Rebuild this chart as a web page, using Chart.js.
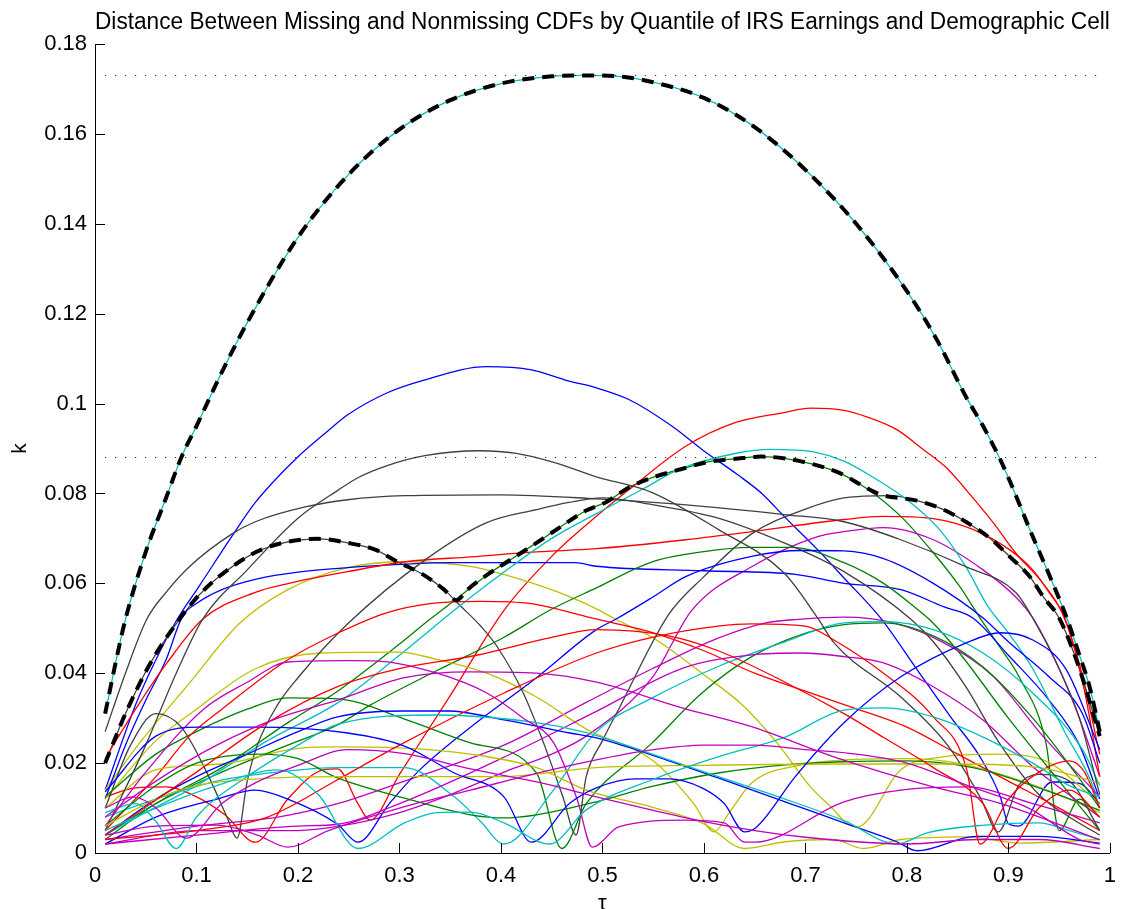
<!DOCTYPE html>
<html lang="en">
<head>
<meta charset="UTF-8">
<title>Distance Between Missing and Nonmissing CDFs</title>
<script src="https://cdn.jsdelivr.net/npm/chart.js"></script>
<style>
  html, body { margin: 0; padding: 0; background: #fff; }
  #wrap { width: 1126px; height: 909px; }
</style>
</head>
<body>
<div id="wrap"><canvas id="chart" width="1126" height="909"></canvas></div>
<script>
// axis ticks
const xTicks = [0, 0.1, 0.2, 0.3, 0.4, 0.5, 0.6, 0.7, 0.8, 0.9, 1];
const yTicks = [0, 0.02, 0.04, 0.06, 0.08, 0.1, 0.12, 0.14, 0.16, 0.18];

// dotted reference levels (max of each envelope)
const refLevels = [0.173, 0.088];
const refSpan = [0.01, 0.99];

// thick dashed envelopes, [tau, k]
const envelopeTop = [[0.01,0.031],[0.02,0.042],[0.03,0.052],[0.05,0.067],[0.07,0.079],[0.085,0.088],[0.1,0.095],[0.125,0.107],[0.15,0.118],[0.2,0.137],[0.25,0.151],[0.3,0.161],[0.35,0.1675],[0.4,0.1712],[0.45,0.1728],[0.48,0.173],[0.52,0.1727],[0.55,0.1715],[0.6,0.168],[0.65,0.1615],[0.7,0.152],[0.75,0.14],[0.8,0.125],[0.83,0.114],[0.858,0.1016],[0.875,0.095],[0.891,0.088],[0.9,0.0835],[0.924,0.0704],[0.94,0.062],[0.958,0.052],[0.97,0.044],[0.98,0.037],[0.99,0.027]];
const envelopeMid = [[0.01,0.02],[0.03,0.031],[0.054,0.042],[0.08,0.051],[0.103,0.0575],[0.125,0.062],[0.164,0.0675],[0.22,0.0699],[0.249,0.069],[0.276,0.0675],[0.298,0.0648],[0.323,0.062],[0.344,0.0586],[0.356,0.0562],[0.367,0.0586],[0.389,0.0623],[0.409,0.0652],[0.435,0.069],[0.455,0.072],[0.484,0.0762],[0.503,0.078],[0.526,0.0813],[0.549,0.0835],[0.579,0.0855],[0.604,0.087],[0.631,0.0877],[0.657,0.0882],[0.682,0.0877],[0.709,0.0864],[0.735,0.0844],[0.758,0.0815],[0.775,0.0797],[0.81,0.0784],[0.836,0.0764],[0.858,0.0737],[0.882,0.07],[0.901,0.066],[0.921,0.0615],[0.935,0.0568],[0.95,0.0523],[0.97,0.041],[0.99,0.026]];

// demographic cells, one array of [tau, k] per line
const cyanLines = [
  [[0.01,0.031],[0.02,0.042],[0.03,0.052],[0.05,0.067],[0.07,0.079],[0.085,0.088],[0.1,0.095],[0.125,0.107],[0.15,0.118],[0.2,0.137],[0.25,0.151],[0.3,0.161],[0.35,0.1675],[0.4,0.1712],[0.45,0.1728],[0.48,0.173],[0.52,0.1727],[0.55,0.1715],[0.6,0.168],[0.65,0.1615],[0.7,0.152],[0.75,0.14],[0.8,0.125],[0.83,0.114],[0.858,0.1016],[0.875,0.095],[0.891,0.088],[0.9,0.0835],[0.924,0.0704],[0.94,0.062],[0.958,0.052],[0.97,0.044],[0.98,0.037],[0.99,0.027]],
  [[0.01,0.004],[0.05,0.009],[0.1,0.015],[0.17,0.025],[0.239,0.0334],[0.3,0.044],[0.354,0.054],[0.4,0.062],[0.45,0.07],[0.494,0.0755],[0.54,0.081],[0.575,0.0853],[0.633,0.089],[0.665,0.0898],[0.709,0.0892],[0.738,0.0872],[0.766,0.0837],[0.8,0.0786],[0.832,0.072],[0.858,0.0637],[0.88,0.0548],[0.9,0.049],[0.924,0.041],[0.956,0.0267],[0.982,0.0156],[0.99,0.01]],
  [[0.01,0.008],[0.06,0.012],[0.12,0.016],[0.18,0.018],[0.239,0.019],[0.305,0.019],[0.354,0.0125],[0.38,0.007],[0.403,0.002],[0.45,0.0135],[0.494,0.027],[0.549,0.0345],[0.614,0.0415],[0.68,0.047],[0.738,0.0512],[0.777,0.0515],[0.826,0.0497],[0.875,0.0445],[0.924,0.0356],[0.973,0.023],[0.99,0.015]],
  [[0.01,0.009],[0.04,0.011],[0.06,0.007],[0.08,0.001],[0.1,0.008],[0.15,0.017],[0.2,0.024],[0.239,0.0286],[0.337,0.0307],[0.435,0.029],[0.484,0.0268],[0.549,0.022],[0.614,0.017],[0.68,0.012],[0.738,0.0072],[0.79,0.002],[0.82,0.0045],[0.877,0.0062],[0.93,0.0067],[0.96,0.005],[0.99,0.003]],
  [[0.01,0.005],[0.06,0.01],[0.12,0.015],[0.18,0.0185],[0.22,0.013],[0.259,0.001],[0.305,0.0067],[0.337,0.009],[0.37,0.0091],[0.403,0.0067],[0.448,0.002],[0.484,0.0096],[0.549,0.0163],[0.614,0.0214],[0.68,0.0258],[0.738,0.0318],[0.777,0.0323],[0.826,0.0303],[0.875,0.0258],[0.924,0.02],[0.96,0.015],[0.99,0.0125]]
];
const grayLines = [
  [[0.01,0.02],[0.03,0.031],[0.054,0.042],[0.08,0.051],[0.103,0.0575],[0.125,0.062],[0.164,0.0675],[0.22,0.0699],[0.249,0.069],[0.276,0.0675],[0.298,0.0648],[0.323,0.062],[0.344,0.0586],[0.36,0.055],[0.38,0.0505],[0.396,0.046],[0.422,0.0356],[0.442,0.0245],[0.461,0.0125],[0.474,0.004],[0.484,0.017],[0.5,0.025],[0.516,0.032],[0.565,0.053],[0.6,0.0615],[0.647,0.071],[0.7,0.0765],[0.738,0.079],[0.784,0.0795],[0.81,0.0784],[0.836,0.0764],[0.858,0.0737],[0.882,0.07],[0.901,0.066],[0.921,0.0615],[0.935,0.0568],[0.95,0.0523],[0.97,0.041],[0.99,0.026]],
  [[0.01,0.01],[0.035,0.024],[0.06,0.031],[0.085,0.028],[0.11,0.018],[0.13,0.008],[0.14,0.0033],[0.15,0.016],[0.16,0.024],[0.18,0.033],[0.2,0.039],[0.249,0.051],[0.327,0.0655],[0.386,0.0735],[0.435,0.0764],[0.467,0.078],[0.5,0.079],[0.549,0.0775],[0.614,0.0745],[0.679,0.069],[0.738,0.0626],[0.804,0.052],[0.826,0.047],[0.858,0.037],[0.891,0.0245],[0.93,0.013],[0.96,0.008],[0.99,0.004]],
  [[0.01,0.005],[0.05,0.024],[0.08,0.04],[0.106,0.052],[0.15,0.063],[0.2,0.0745],[0.24,0.0808],[0.259,0.0835],[0.288,0.0862],[0.325,0.0884],[0.379,0.0895],[0.415,0.0889],[0.452,0.0869],[0.494,0.0837],[0.549,0.0802],[0.614,0.072],[0.679,0.0623],[0.712,0.0523],[0.728,0.0468],[0.794,0.0347],[0.84,0.024],[0.872,0.0125],[0.89,0.0047],[0.91,0.015],[0.93,0.0175],[0.96,0.016],[0.99,0.005]],
  [[0.01,0.027],[0.03,0.04],[0.051,0.052],[0.07,0.058],[0.093,0.0637],[0.135,0.071],[0.158,0.0737],[0.207,0.077],[0.249,0.0786],[0.305,0.0795],[0.4,0.0797],[0.494,0.0788],[0.58,0.0775],[0.679,0.0753],[0.738,0.0737],[0.794,0.0697],[0.858,0.0637],[0.907,0.058],[0.924,0.0523],[0.95,0.041],[0.97,0.03],[0.99,0.013]]
];
const blueLines = [
  [[0.01,0.014],[0.04,0.033],[0.06,0.043],[0.081,0.052],[0.103,0.0595],[0.135,0.0705],[0.158,0.078],[0.197,0.0875],[0.23,0.094],[0.249,0.0975],[0.288,0.1024],[0.321,0.105],[0.386,0.1082],[0.43,0.1075],[0.467,0.105],[0.494,0.1035],[0.526,0.1009],[0.569,0.0949],[0.598,0.0898],[0.633,0.0842],[0.657,0.08],[0.679,0.0749],[0.712,0.0675],[0.738,0.0612],[0.774,0.0523],[0.81,0.0408],[0.843,0.0303],[0.872,0.0214],[0.892,0.0125],[0.9,0.0065],[0.91,0.006],[0.943,0.0158],[0.97,0.0155],[0.99,0.011]],
  [[0.01,0.012],[0.03,0.024],[0.05,0.034],[0.07,0.043],[0.086,0.0526],[0.1,0.0555],[0.125,0.0586],[0.16,0.061],[0.2,0.0625],[0.249,0.0635],[0.3,0.0642],[0.35,0.0646],[0.473,0.0646],[0.494,0.0638],[0.6,0.0628],[0.69,0.062],[0.738,0.06],[0.794,0.0586],[0.836,0.0548],[0.865,0.0523],[0.9,0.044],[0.94,0.034],[0.97,0.024],[0.99,0.012]],
  [[0.01,0.002],[0.06,0.008],[0.12,0.012],[0.158,0.014],[0.19,0.012],[0.239,0.0064],[0.259,0.0024],[0.29,0.011],[0.32,0.0185],[0.37,0.028],[0.435,0.039],[0.494,0.0497],[0.513,0.052],[0.55,0.057],[0.582,0.0615],[0.647,0.066],[0.696,0.0673],[0.738,0.0672],[0.777,0.0655],[0.826,0.06],[0.875,0.0523],[0.9,0.047],[0.94,0.0392],[0.973,0.031],[0.99,0.02]],
  [[0.01,0.004],[0.06,0.012],[0.1,0.017],[0.15,0.022],[0.2,0.027],[0.239,0.0303],[0.305,0.0316],[0.348,0.0316],[0.403,0.0296],[0.468,0.0267],[0.494,0.0256],[0.549,0.0218],[0.614,0.0167],[0.68,0.0114],[0.738,0.0067],[0.79,0.0025],[0.81,0.0005],[0.868,0.0037],[0.93,0.0037],[0.99,0.0022]],
  [[0.01,0.0136],[0.06,0.026],[0.103,0.028],[0.158,0.028],[0.249,0.0267],[0.305,0.0238],[0.354,0.0178],[0.403,0.0125],[0.43,0.0024],[0.468,0.0111],[0.494,0.0145],[0.533,0.0165],[0.565,0.0165],[0.598,0.0145],[0.62,0.011],[0.64,0.0047],[0.652,0.0058],[0.69,0.017],[0.738,0.029],[0.794,0.0392],[0.859,0.0468],[0.892,0.049],[0.924,0.0474],[0.957,0.0408],[0.99,0.023]]
];
const redLines = [
  [[0.01,0.0125],[0.04,0.0145],[0.07,0.0147],[0.1,0.0125],[0.128,0.0085],[0.158,0.0024],[0.19,0.012],[0.225,0.0185],[0.239,0.0187],[0.259,0.011],[0.271,0.0073],[0.3,0.0175],[0.35,0.035],[0.403,0.054],[0.45,0.066],[0.494,0.0749],[0.526,0.0808],[0.582,0.0905],[0.63,0.0957],[0.679,0.098],[0.705,0.099],[0.738,0.0985],[0.761,0.097],[0.79,0.0942],[0.816,0.0898],[0.839,0.0857],[0.865,0.079],[0.885,0.0735],[0.907,0.0668],[0.934,0.06],[0.953,0.0534],[0.97,0.042],[0.99,0.022]],
  [[0.01,0.021],[0.04,0.032],[0.07,0.042],[0.106,0.052],[0.158,0.058],[0.191,0.06],[0.249,0.0626],[0.306,0.0648],[0.371,0.0659],[0.435,0.067],[0.494,0.0677],[0.582,0.0697],[0.647,0.0715],[0.738,0.0742],[0.777,0.0749],[0.826,0.0744],[0.865,0.072],[0.901,0.0675],[0.924,0.063],[0.94,0.058],[0.956,0.052],[0.975,0.036],[0.99,0.017]],
  [[0.01,0.005],[0.06,0.017],[0.093,0.026],[0.125,0.032],[0.19,0.043],[0.24,0.049],[0.288,0.0535],[0.33,0.0555],[0.38,0.056],[0.43,0.0555],[0.484,0.0526],[0.55,0.049],[0.6,0.045],[0.65,0.04],[0.7,0.036],[0.738,0.033],[0.8,0.028],[0.85,0.022],[0.9,0.016],[0.95,0.01],[0.99,0.005]],
  [[0.01,0.003],[0.1,0.005],[0.17,0.008],[0.239,0.0163],[0.3,0.024],[0.403,0.0356],[0.494,0.0445],[0.549,0.048],[0.614,0.0505],[0.647,0.051],[0.7,0.0505],[0.728,0.0474],[0.777,0.04],[0.826,0.0303],[0.859,0.0185],[0.872,0.002],[0.9,0.012],[0.93,0.018],[0.96,0.0205],[0.975,0.018],[0.99,0.01]],
  [[0.01,0.004],[0.1,0.018],[0.17,0.029],[0.239,0.037],[0.3,0.041],[0.376,0.044],[0.45,0.048],[0.494,0.0497],[0.565,0.0483],[0.614,0.045],[0.68,0.038],[0.738,0.031],[0.777,0.0257],[0.826,0.019],[0.875,0.011],[0.9,0.001],[0.93,0.01],[0.96,0.014],[0.99,0.008]]
];
const greenLines = [
  [[0.01,0.003],[0.06,0.011],[0.125,0.019],[0.19,0.029],[0.239,0.036],[0.3,0.0465],[0.33,0.052],[0.356,0.0565],[0.389,0.0623],[0.409,0.0652],[0.435,0.069],[0.455,0.072],[0.484,0.0762],[0.503,0.078],[0.526,0.0813],[0.549,0.0835],[0.579,0.0855],[0.604,0.087],[0.631,0.0877],[0.657,0.0882],[0.682,0.0877],[0.709,0.0864],[0.735,0.0844],[0.761,0.081],[0.794,0.0749],[0.826,0.0668],[0.852,0.0593],[0.87,0.053],[0.891,0.046],[0.911,0.039],[0.937,0.0245],[0.95,0.005],[0.97,0.012],[0.99,0.008]],
  [[0.01,0.004],[0.06,0.011],[0.125,0.018],[0.19,0.024],[0.239,0.0285],[0.272,0.033],[0.337,0.0406],[0.403,0.048],[0.448,0.054],[0.494,0.059],[0.549,0.0648],[0.598,0.067],[0.647,0.068],[0.686,0.068],[0.738,0.0646],[0.777,0.06],[0.81,0.0543],[0.822,0.052],[0.85,0.045],[0.9,0.03],[0.95,0.016],[0.99,0.005]],
  [[0.01,0.0125],[0.06,0.022],[0.1,0.027],[0.15,0.032],[0.19,0.0345],[0.239,0.0343],[0.305,0.0298],[0.37,0.0245],[0.435,0.0178],[0.46,0.001],[0.484,0.011],[0.549,0.0245],[0.598,0.0356],[0.647,0.0437],[0.696,0.0486],[0.738,0.0508],[0.777,0.0512],[0.826,0.0483],[0.875,0.0414],[0.924,0.03],[0.973,0.0156],[0.99,0.01]],
  [[0.01,0.006],[0.06,0.015],[0.1,0.02],[0.16,0.022],[0.2,0.021],[0.239,0.0167],[0.305,0.0122],[0.37,0.0085],[0.403,0.0078],[0.435,0.0085],[0.494,0.0114],[0.549,0.0148],[0.614,0.0178],[0.68,0.0196],[0.738,0.0203],[0.8,0.0205],[0.865,0.019],[0.93,0.0145],[0.99,0.0095]]
];
const magentaLines = [
  [[0.01,0.002],[0.1,0.005],[0.2,0.005],[0.239,0.0059],[0.3,0.009],[0.35,0.013],[0.403,0.018],[0.45,0.022],[0.484,0.026],[0.549,0.039],[0.588,0.054],[0.647,0.0637],[0.712,0.0704],[0.738,0.0715],[0.777,0.0724],[0.826,0.0697],[0.875,0.063],[0.907,0.057],[0.924,0.0523],[0.95,0.041],[0.97,0.03],[0.99,0.017]],
  [[0.01,0.003],[0.1,0.006],[0.18,0.008],[0.239,0.011],[0.305,0.016],[0.403,0.024],[0.484,0.0335],[0.549,0.041],[0.614,0.0478],[0.661,0.0512],[0.693,0.052],[0.738,0.0525],[0.787,0.0512],[0.836,0.0468],[0.885,0.0393],[0.934,0.026],[0.99,0.0125]],
  [[0.01,0.002],[0.1,0.004],[0.2,0.006],[0.239,0.0064],[0.3,0.011],[0.4,0.021],[0.494,0.0315],[0.58,0.0412],[0.647,0.0441],[0.696,0.0445],[0.738,0.0437],[0.777,0.0423],[0.826,0.037],[0.875,0.0296],[0.924,0.0192],[0.99,0.008]],
  [[0.01,0.006],[0.05,0.018],[0.107,0.032],[0.15,0.038],[0.19,0.0425],[0.249,0.0428],[0.279,0.0427],[0.337,0.04],[0.386,0.0356],[0.422,0.03],[0.452,0.0245],[0.475,0.012],[0.49,0.0013],[0.516,0.0058],[0.58,0.0073],[0.62,0.0067],[0.64,0.0024],[0.65,0.0024],[0.738,0.0114],[0.794,0.014],[0.859,0.0147],[0.924,0.011],[0.99,0.0067]],
  [[0.01,0.01],[0.037,0.0125],[0.06,0.01],[0.09,0.0033],[0.125,0.011],[0.158,0.0156],[0.2,0.0195],[0.249,0.023],[0.305,0.0221],[0.37,0.0187],[0.44,0.0156],[0.494,0.0125],[0.55,0.0095],[0.6,0.007],[0.65,0.005],[0.7,0.0035],[0.75,0.0025],[0.8,0.002],[0.87,0.003],[0.93,0.003],[0.99,0.001]],
  [[0.01,0.004],[0.06,0.006],[0.12,0.0062],[0.16,0.004],[0.19,0.0013],[0.23,0.005],[0.3,0.01],[0.37,0.014],[0.44,0.018],[0.5,0.021],[0.55,0.023],[0.6,0.024],[0.65,0.024],[0.7,0.023],[0.75,0.022],[0.8,0.02],[0.86,0.015],[0.92,0.01],[0.97,0.003],[0.99,0.002]],
  [[0.01,0.008],[0.06,0.016],[0.12,0.024],[0.18,0.03],[0.239,0.034],[0.305,0.039],[0.37,0.0403],[0.435,0.04],[0.494,0.038],[0.58,0.0322],[0.647,0.0281],[0.728,0.0214],[0.826,0.0147],[0.891,0.0111],[0.99,0.0029]]
];
const yellowLines = [
  [[0.01,0.014],[0.044,0.0245],[0.093,0.0378],[0.142,0.051],[0.19,0.0586],[0.249,0.0635],[0.306,0.0648],[0.371,0.0637],[0.42,0.0608],[0.468,0.057],[0.497,0.054],[0.513,0.052],[0.549,0.048],[0.598,0.04],[0.64,0.0325],[0.672,0.0245],[0.705,0.0147],[0.728,0.0096],[0.741,0.0065],[0.751,0.0058],[0.794,0.0185],[0.836,0.0214],[0.885,0.022],[0.934,0.0207],[0.99,0.011]],
  [[0.01,0.012],[0.06,0.025],[0.1,0.032],[0.158,0.041],[0.222,0.0445],[0.3,0.0447],[0.338,0.043],[0.386,0.04],[0.435,0.0347],[0.484,0.0276],[0.549,0.0207],[0.59,0.011],[0.61,0.0047],[0.625,0.009],[0.647,0.0156],[0.696,0.0196],[0.738,0.0207],[0.8,0.021],[0.85,0.02],[0.9,0.017],[0.95,0.013],[0.99,0.009]],
  [[0.01,0.01],[0.06,0.0185],[0.125,0.0198],[0.2,0.0233],[0.24,0.0236],[0.3,0.0234],[0.37,0.022],[0.435,0.019],[0.484,0.014],[0.549,0.0102],[0.6,0.0065],[0.64,0.001],[0.68,0.0025],[0.728,0.003],[0.757,0.001],[0.794,0.003],[0.859,0.0036],[0.911,0.0022],[0.99,0.003]],
  [[0.01,0.006],[0.06,0.012],[0.1,0.015],[0.16,0.0165],[0.239,0.017],[0.4,0.017],[0.494,0.019],[0.6,0.0195],[0.738,0.0198],[0.85,0.0198],[0.93,0.019],[0.99,0.0156]]
];

const colorGroups = [
  [blueLines, '#0000ff'],
  [greenLines, '#008000'],
  [redLines, '#ff0000'],
  [cyanLines, '#00bfbf'],
  [magentaLines, '#bf00bf'],
  [yellowLines, '#bfbf00'],
  [grayLines, '#404040']
];

const toPts = arr => arr.map(([x, y]) => ({ x, y }));

// first dataset is drawn on top in Chart.js, so envelopes go first
const datasets = [];
datasets.push({ data: toPts(envelopeTop), borderColor: '#000', borderWidth: 4, borderDash: [12, 8] });
datasets.push({ data: toPts(envelopeMid), borderColor: '#000', borderWidth: 4, borderDash: [12, 8] });
refLevels.forEach(v => {
  datasets.push({ data: refSpan.map(t => ({ x: t, y: v })), borderColor: '#000', borderWidth: 1, borderDash: [1, 9], cubicInterpolationMode: 'default', tension: 0 });
});
const longest = Math.max(...colorGroups.map(g => g[0].length));
const cellSets = [];
for (let i = 0; i < longest; i++) {
  colorGroups.forEach(([lines, color]) => {
    if (lines[i]) cellSets.push({ data: toPts(lines[i]), borderColor: color, borderWidth: 1.3 });
  });
}
datasets.push(...cellSets.reverse());

const fmt = v => String(Number(v.toFixed(2)));
const fontFamily = "'Liberation Sans', Arial, Helvetica, sans-serif";
const tickFont = { family: fontFamily, size: 22 };

const inwardTicks = {
  id: 'inwardTicks',
  afterDraw(chart) {
    const { ctx, chartArea: a, scales: { x, y } } = chart;
    ctx.save();
    ctx.strokeStyle = '#000';
    ctx.lineWidth = 1;
    ctx.beginPath();
    xTicks.forEach(v => {
      const px = Math.round(x.getPixelForValue(v)) + 0.5;
      ctx.moveTo(px, a.bottom);
      ctx.lineTo(px, a.bottom - 10);
    });
    yTicks.forEach(v => {
      const py = Math.round(y.getPixelForValue(v)) + 0.5;
      ctx.moveTo(a.left, py);
      ctx.lineTo(a.left + 10, py);
    });
    ctx.stroke();
    ctx.restore();
  }
};

new Chart(document.getElementById('chart'), {
  type: 'line',
  data: { datasets },
  options: {
    responsive: false,
    animation: false,
    elements: {
      point: { radius: 0 },
      line: { cubicInterpolationMode: 'monotone', fill: false, borderCapStyle: 'butt' }
    },
    layout: { padding: { left: 0, right: 8, top: 0, bottom: 0 } },
    plugins: {
      legend: { display: false },
      tooltip: { enabled: false },
      title: {
        display: true,
        fullSize: false,
        text: 'Distance Between Missing and Nonmissing CDFs by Quantile of IRS Earnings and Demographic Cell',
        color: '#000',
        font: { family: fontFamily, size: 23.3, weight: 'normal', lineHeight: 1 },
        padding: { top: 11, bottom: 9.7 }
      }
    },
    scales: {
      x: {
        type: 'linear', min: 0, max: 1,
        afterFit: s => { s.height = 56; },
        grid: { display: false, drawTicks: false },
        border: { display: true, color: '#000', width: 1 },
        ticks: { stepSize: 0.1, padding: 10, color: '#000', font: tickFont, maxRotation: 0, autoSkip: false, callback: v => fmt(v) },
        title: { display: true, text: 'τ', color: '#000', font: { family: fontFamily, size: 22, lineHeight: 1 }, padding: { top: 0, bottom: -6 } }
      },
      y: {
        type: 'linear', min: 0, max: 0.18,
        afterFit: s => { s.width = 95; },
        grid: { display: false, drawTicks: false },
        border: { display: true, color: '#000', width: 1 },
        ticks: { stepSize: 0.02, padding: 8, color: '#000', font: tickFont, autoSkip: false, callback: v => fmt(v) },
        title: { display: true, text: 'k', color: '#000', font: { family: fontFamily, size: 21, lineHeight: 1 }, padding: { top: 10, bottom: 0 } }
      }
    }
  },
  plugins: [inwardTicks]
});
</script>
</body>
</html>
